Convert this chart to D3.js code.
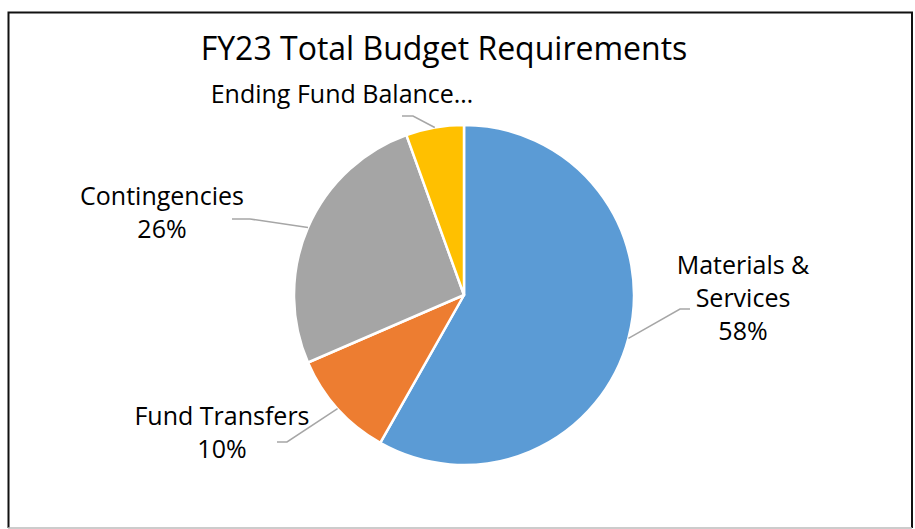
<!DOCTYPE html>
<html lang="en">
<head>
  <meta charset="UTF-8">
  <title>FY23 Total Budget Requirements</title>
  <script src="https://cdnjs.cloudflare.com/ajax/libs/d3/7.8.5/d3.min.js"></script>
  <style>
    body {
      margin: 0;
      background: white;
    }
    svg {
      display: block;
      font-family: "Open Sans", sans-serif;
    }
    .label {
      text-anchor: middle;
      fill: #000;
    }
    .leader {
      fill: none;
      stroke: #a6a6a6;
      stroke-width: 1.5;
    }
  </style>
</head>
<body>
  <script>
    // data
    var categories = ["Materials & Services", "Fund Transfers", "Contingencies", "Ending Fund Balance"];
    var values = [58.2, 10.3, 26.0, 5.5];
    var colors = ["#5b9bd5", "#ed7d31", "#a5a5a5", "#ffc000"];
    // label text as shown (the last one is cut off in the original)
    var labelLines = [
      ["Materials &", "Services"],
      ["Fund Transfers"],
      ["Contingencies"],
      ["Ending Fund Balance\u2026"]
    ];
    var showPct = [true, true, true, false];

    var w = 915;
    var h = 529;
    var cx = 464, cy = 295, r = 170;

    // where each label sits, and the elbow/end of its leader line
    var labelPos = [
      {x: 743, y: 274, elbow: [680, 309], end: [690, 309]},
      {x: 222, y: 425, elbow: [287, 442], end: [277, 442]},
      {x: 162, y: 205, elbow: [250, 219], end: [232, 219]},
      {x: 342, y: 103, elbow: [413, 116], end: [402, 116]}
    ];
    var lineH = 33;

    var svg = d3.select("body").append("svg")
      .attr("width", w)
      .attr("height", h);

    svg.append("rect")
      .attr("width", w)
      .attr("height", h)
      .attr("fill", "white");

    // frame
    svg.append("path")
      .attr("d", "M8.5,528 L8.5,12.5 L912,12.5 L912,528")
      .attr("fill", "none")
      .attr("stroke", "#111")
      .attr("stroke-width", 2);
    svg.append("line")
      .attr("x1", 8).attr("x2", 912)
      .attr("y1", 528).attr("y2", 528)
      .attr("stroke", "#bbb")
      .attr("stroke-width", 1.5);

    svg.append("text")
      .attr("x", 444)
      .attr("y", 60)
      .attr("text-anchor", "middle")
      .attr("font-size", 32)
      .text("FY23 Total Budget Requirements");

    var pie = d3.pie().sort(null).value(function(d) { return d; });
    var arcs = pie(values);
    var total = d3.sum(values);
    var pct = d3.format(".0%");

    var arc = d3.arc().innerRadius(0).outerRadius(r);

    var g = svg.append("g")
      .attr("transform", "translate(" + cx + "," + cy + ")");

    g.selectAll(".slice")
      .data(arcs)
      .enter()
      .append("path")
      .classed("slice", true)
      .attr("d", arc)
      .attr("fill", function(d, i) { return colors[i]; })
      .attr("stroke", "white")
      .attr("stroke-width", 2.5)
      .attr("stroke-linejoin", "round");

    // leader lines from the slice edge at its mid angle
    svg.selectAll(".leader")
      .data(arcs)
      .enter()
      .append("polyline")
      .classed("leader", true)
      .attr("points", function(d, i) {
        var a = (d.startAngle + d.endAngle) / 2;
        var sx = cx + r * Math.sin(a);
        var sy = cy - r * Math.cos(a);
        var p = labelPos[i];
        return [[sx, sy], p.elbow, p.end].join(" ");
      });

    var labels = svg.selectAll(".label")
      .data(arcs)
      .enter()
      .append("text")
      .classed("label", true)
      .attr("font-size", 25)
      .attr("y", function(d, i) { return labelPos[i].y; });

    labels.each(function(d, i) {
      var lines = labelLines[i].slice();
      if (showPct[i]) lines.push(pct(d.value / total));
      d3.select(this).selectAll("tspan")
        .data(lines)
        .enter()
        .append("tspan")
        .attr("x", labelPos[i].x)
        .attr("dy", function(t, j) { return j === 0 ? 0 : lineH; })
        .text(function(t) { return t; });
    });
  </script>
</body>
</html>
